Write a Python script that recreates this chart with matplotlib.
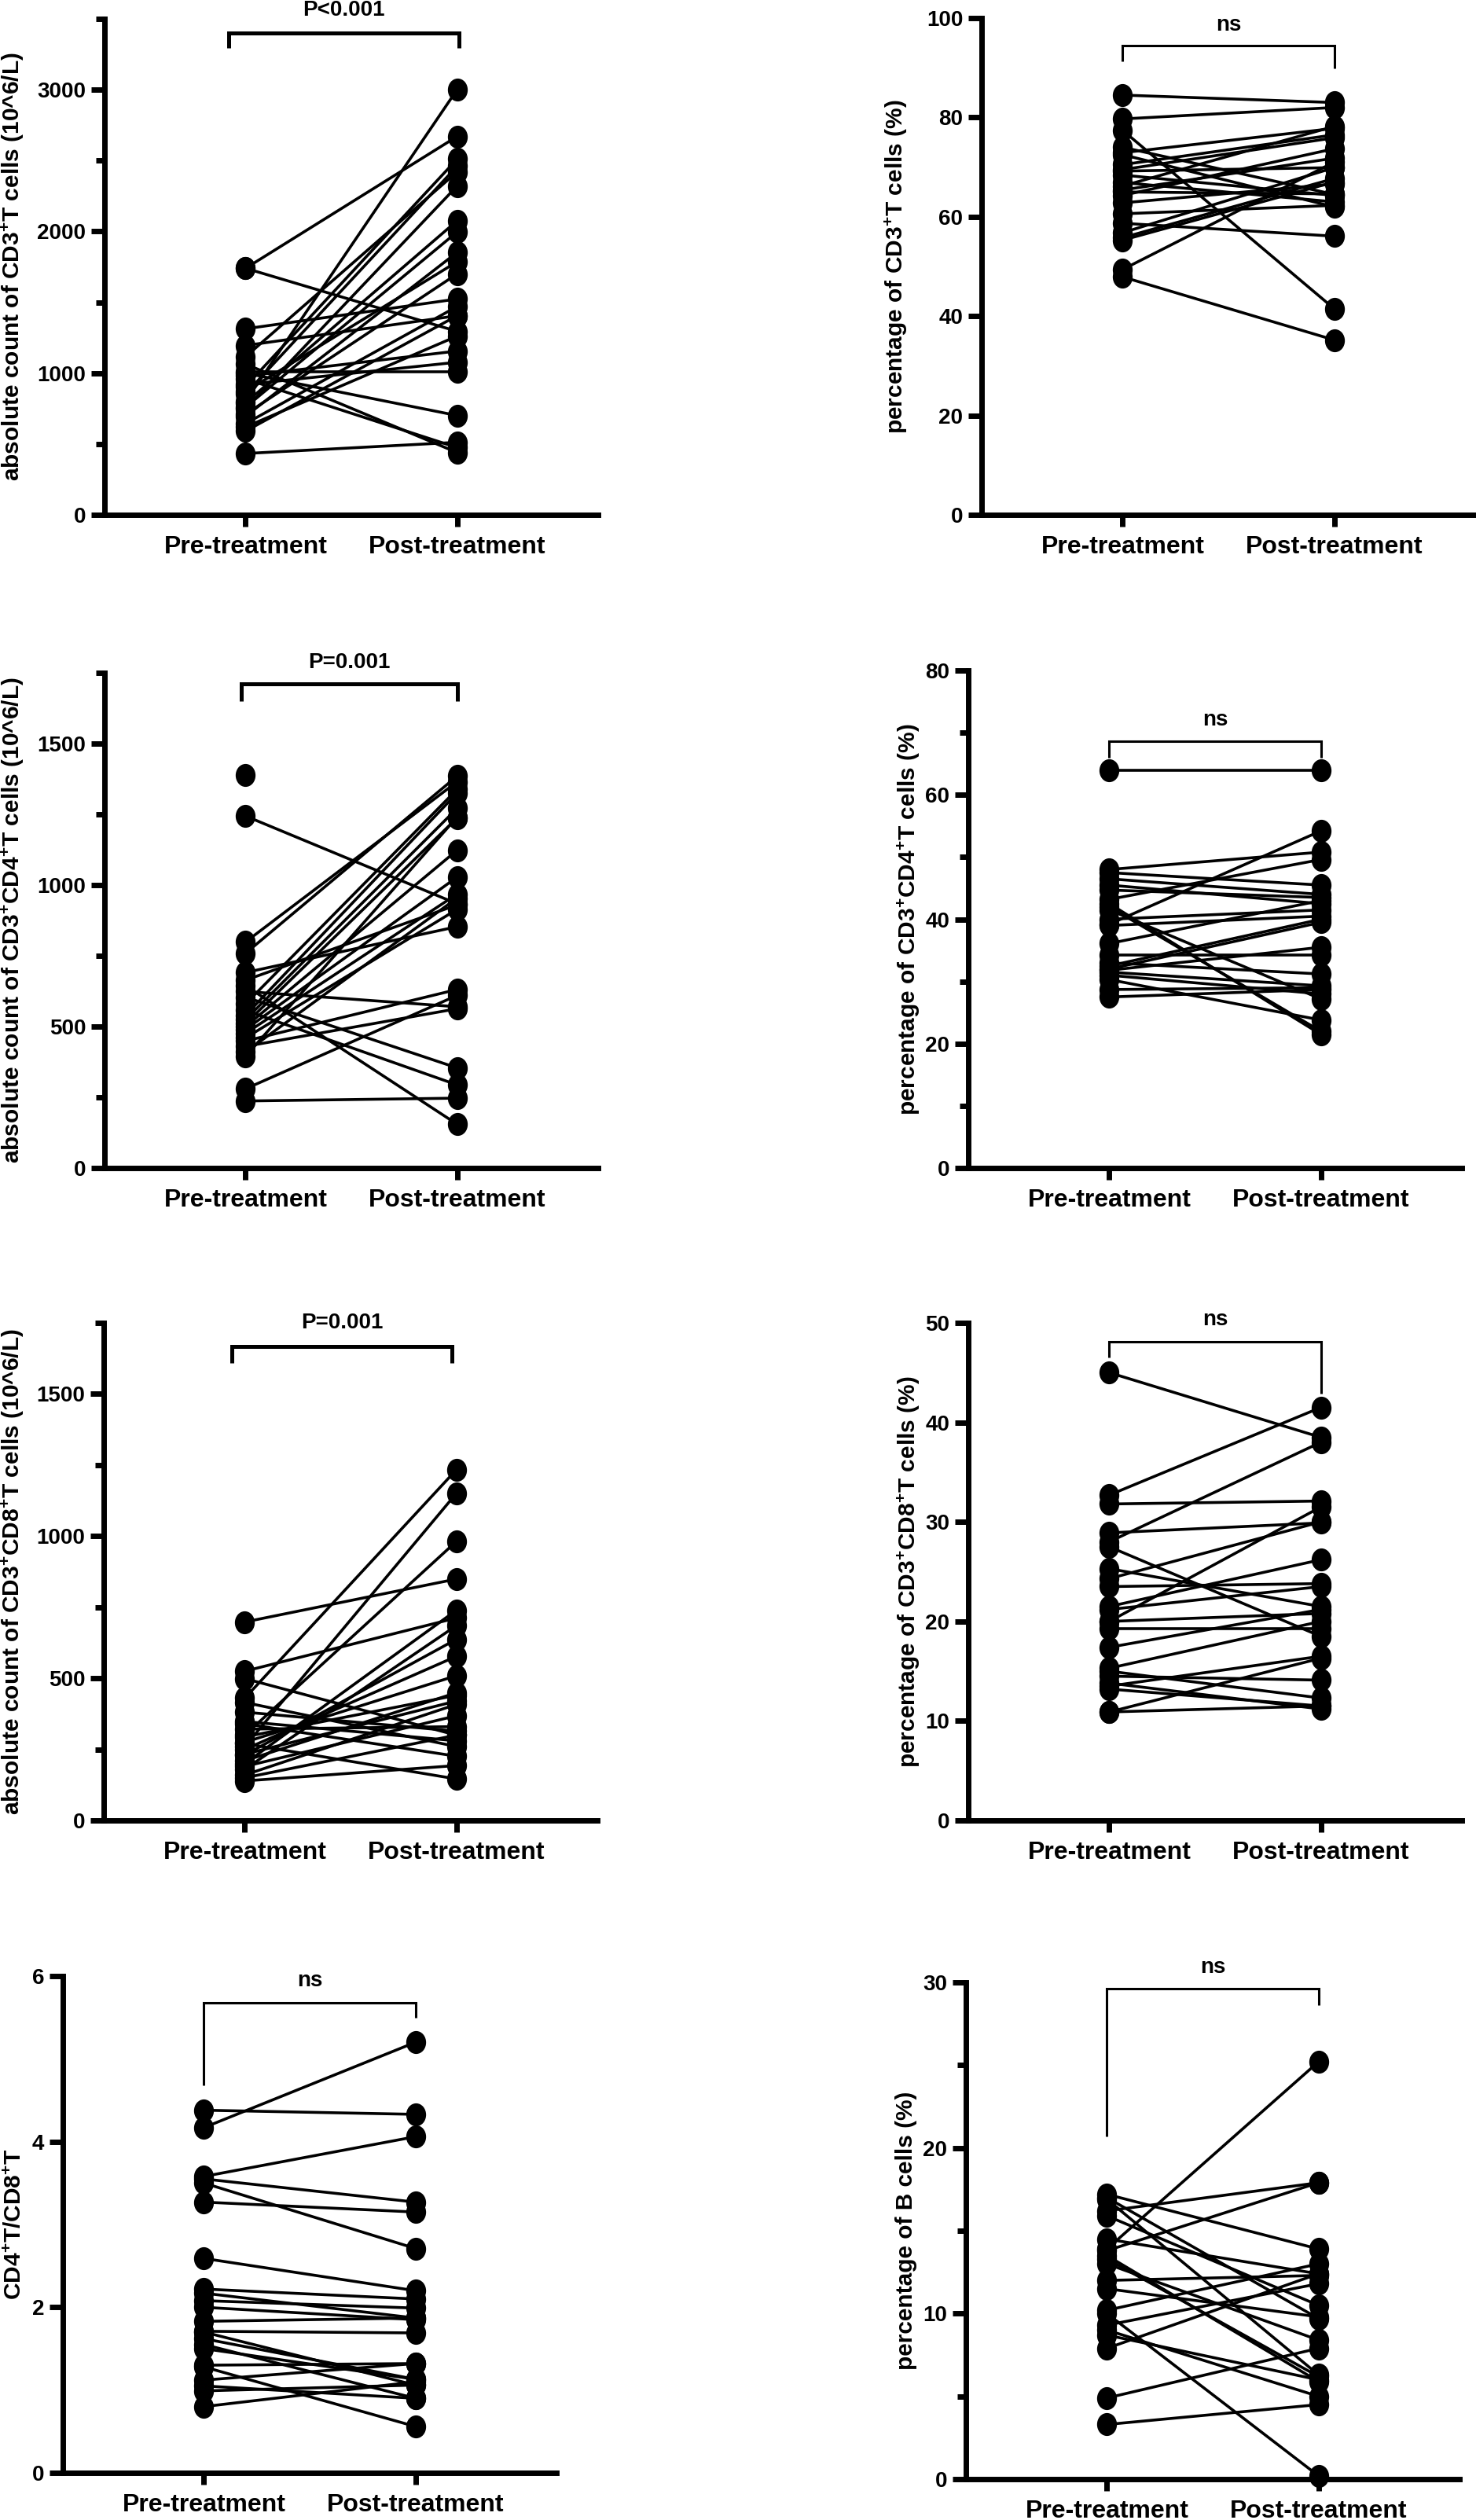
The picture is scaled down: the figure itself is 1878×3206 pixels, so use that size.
import numpy as np
import matplotlib
matplotlib.use("Agg")
import matplotlib.pyplot as plt
from matplotlib.path import Path
from matplotlib.ticker import MultipleLocator

plt.rcParams['font.family'] = ['Liberation Sans', 'DejaVu Sans']
plt.rcParams['font.weight'] = 'bold'
plt.rcParams['mathtext.fontset'] = 'custom'
plt.rcParams['mathtext.rm'] = 'Liberation Sans:bold'
plt.rcParams['mathtext.it'] = 'Liberation Sans:bold'
plt.rcParams['mathtext.bf'] = 'Liberation Sans:bold'

groups = ["Pre-treatment", "Post-treatment"]
nan = float('nan')

# Panel 1: absolute count of CD3+ T cells
pre1 = [1740, 1740, 1313, 1195, 1116, 1011, 1064, 959, 1000, 906, 854, 801,
        749, 790, 760, 696, 870, 710, 644, 591, 980, 920, 620, 433]
post1 = [2670, 1295, 1523, 1405, 2420, 1011, 440, 475, 701, 2510, 2460, 3000,
         2320, 2075, 1996, 1852, 1786, 1700, 1470, 1405, 1156, 1077, 1261, 512]

# Panel 2: percentage of CD3+ T cells
pre2 = [84.5, 79.7, 77.4, 72.9, 72.5, 69.5, 69.2, 68.4, 66.9, 66.2, 65.4, 65.0,
        64.3, 62.8, 60.6, 58.7, 56.8, 55.8, 55.3, 49.4, 47.9, 74.0, 70.5]
post2 = [83.0, 82.0, 41.5, 77.8, 62.0, 75.9, 69.9, 64.3, 63.0, 78.2, 71.8, 64.6,
         73.7, 66.6, 62.3, 56.1, 69.9, 67.7, 67.0, 71.0, 35.2, 64.5, 76.5]

# Panel 3: absolute count of CD3+CD4+ T cells
pre3 = [1388, 1244, 799, 759, 691, 664, 644, 624, 604, 580, 557, 540,
        525, 510, 500, 490, 476, 460, 449, 430, 410, 395, 280, 237]
post3 = [nan, 934, 1365, 1385, 853, 930, 155, 570, 354, 1338, 294, 1325,
         1271, 1237, 1123, 1028, 968, 914, 631, 563, 954, 1240, 610, 247]

# Panel 4: percentage of CD3+CD4+ T cells
pre4 = [64.0, 48.0, 47.5, 46.5, 44.7, 43.2, 42.5, 42.0, 40.0, 39.2, 39.0, 36.1,
        34.3, 32.5, 32.0, 31.8, 31.5, 31.0, 30.3, 28.7, 27.5, 45.5, 41.5, 33.0]
post4 = [64.0, 50.8, 45.5, 44.0, 43.5, 49.6, 21.5, 22.0, 41.5, 54.2, 40.5, 43.0,
         34.3, 40.0, 39.5, 35.5, 29.3, 28.0, 23.8, 29.0, 28.7, 42.5, 27.2, 31.2]

# Panel 5: absolute count of CD3+CD8+ T cells
pre5 = [698, 525, 499, 430, 260, 300, 381, 348, 139, 270, 200, 180,
        230, 250, 275, 210, 160, 190, 321, 340, 150, 294, 415, 233]
post5 = [849, 712, 300, 1233, 1150, 981, 314, 280, 193, 146, 739, 685,
         637, 577, 509, 449, 408, 368, 330, 226, 300, 440, 260, 420]

# Panel 6: percentage of CD3+CD8+ T cells
pre6 = [45.0, 32.7, 31.8, 28.9, 28.0, 27.5, 25.3, 24.3, 23.5, 21.2, 21.5, 20.0,
        20.0, 19.3, 17.4, 15.3, 15.0, 14.5, 13.8, 13.5, 13.2, 10.9, 10.9]
post6 = [38.5, 41.5, 32.1, 29.9, 38.0, 18.5, 21.5, 30.0, 23.8, 23.5, 26.2, 31.5,
         20.8, 19.3, 21.2, 20.0, 12.3, 14.1, 11.2, 16.5, 11.5, 16.3, 11.5]

# Panel 7: CD4+T / CD8+T ratio
pre7 = [4.38, 4.17, 3.58, 3.55, 3.50, 3.27, 2.59, 2.22, 2.17, 2.08, 2.00, 1.83,
        1.71, 1.70, 1.62, 1.55, 1.50, 1.30, 1.28, 1.12, 1.05, 0.99, 0.80]
post7 = [4.33, 5.20, 4.06, 3.27, 2.71, 3.15, 2.20, 2.10, 1.87, 1.99, 1.85, 1.87,
         1.69, 1.06, 1.13, 0.90, 1.13, 1.32, 0.56, 1.32, 0.90, 1.06, 1.10]

# Panel 8: percentage of B cells
pre8 = [17.2, 17.0, 16.9, 16.2, 15.9, 14.5, 13.9, 13.8, 13.5, 13.3, 13.0, 12.0,
        11.5, 10.2, 10.0, 9.3, 9.0, 8.7, 7.9, 4.9, 3.3]
post8 = [13.9, 9.7, 6.3, 17.9, 10.5, 12.4, 25.2, 17.9, 5.9, 6.2, 8.4, 12.3,
         9.8, 13.0, 0.2, 11.8, 5.0, 6.0, 12.4, 7.9, 4.5]

ylabels = [
    "absolute count of CD3$^{+}$T cells (10^6/L)",
    "percentage of CD3$^{+}$T cells (%)",
    "absolute count of CD3$^{+}$CD4$^{+}$T cells (10^6/L)",
    "percentage of CD3$^{+}$CD4$^{+}$T cells (%)",
    "absolute count of CD3$^{+}$CD8$^{+}$T cells (10^6/L)",
    "percentage of CD3$^{+}$CD8$^{+}$T cells (%)",
    "CD4$^{+}$T/CD8$^{+}$T",
    "percentage of B cells (%)",
]
sig_labels = ["P<0.001", "ns", "P=0.001", "ns", "P=0.001", "ns", "ns", "ns"]

W, H = 1878, 3206
fig = plt.figure(figsize=(W / 100, H / 100), dpi=100)

# layout in pixels: left, top, width, height
boxes = [
    (133, 24, 628, 631), (1249, 23, 628, 632),
    (133, 856, 628, 630), (1232, 853, 628, 633),
    (132, 1683, 628, 633), (1232, 1683, 628, 633),
    (80, 2514, 628, 632), (1229, 2522, 628, 632),
]
ylims = [3500, 100, 1750, 80, 1750, 50, 6, 30]
majors = [1000, 20, 500, 20, 500, 10, 2, 10]
minors = [500, None, 250, 10, 250, None, None, 5]
label_x = [-0.159, -0.146, -0.159, -0.094, -0.158, -0.094, -0.075, -0.098]
# bracket: x_left, x_right, y_bar, y_left_end, y_right_end, y_text, linewidth
brackets = [
    (-0.08, 1.01, 3400, 3295, 3295, 3560, 3.6),
    (0.0, 1.0, 94.5, 91.3, 89.9, 98.5, 2.2),
    (-0.02, 1.0, 1711, 1650, 1650, 1785, 3.6),
    (0.0, 1.0, 68.6, 66.0, 66.0, 72.0, 2.2),
    (-0.06, 0.98, 1668, 1608, 1608, 1750, 3.6),
    (0.0, 1.0, 48.1, 46.5, 42.9, 50.3, 2.2),
    (0.0, 1.0, 5.68, 4.68, 5.50, 5.94, 2.2),
    (0.0, 1.0, 29.6, 20.7, 28.6, 30.9, 2.2),
]

data = [(pre1, post1), (pre2, post2), (pre3, post3), (pre4, post4),
        (pre5, post5), (pre6, post6), (pre7, post7), (pre8, post8)]

circ = Path.unit_circle()
ellipse = Path(circ.vertices * np.array([0.86, 1.0]), circ.codes)

for i, (pre, post) in enumerate(data):
    l, t, w, h = boxes[i]
    ax = fig.add_axes([l / W, 1 - (t + h) / H, w / W, h / H])
    for a, b in zip(pre, post):
        if np.isnan(b):
            ax.plot([0], [a], color='black', marker=ellipse, ms=20, lw=0,
                    clip_on=False, zorder=3)
        else:
            ax.plot([0, 1], [a, b], color='black', lw=2.6, marker=ellipse,
                    ms=20, clip_on=False, zorder=3)
    ax.set_xlim(-0.667, 1.667)
    ax.set_ylim(0, ylims[i])
    ax.set_xticks([0, 1])
    ax.set_xticklabels(groups, fontsize=23, fontweight='bold')
    ax.yaxis.set_major_locator(MultipleLocator(majors[i]))
    if minors[i]:
        ax.yaxis.set_minor_locator(MultipleLocator(minors[i]))
    for lab in ax.get_yticklabels():
        lab.set_fontweight('bold')
    ax.tick_params(axis='y', which='major', length=12, width=5, labelsize=20, pad=5)
    ax.tick_params(axis='y', which='minor', length=8, width=5)
    ax.tick_params(axis='x', which='major', length=11, width=5, pad=8)
    for s in ['top', 'right']:
        ax.spines[s].set_visible(False)
    for s in ['left', 'bottom']:
        ax.spines[s].set_linewidth(5)
    ax.set_ylabel(ylabels[i], fontsize=21.5, fontweight='bold')
    ax.yaxis.set_label_coords(label_x[i], 0.5)
    x0, x1, yb, yl, yr, yt, blw = brackets[i]
    ax.plot([x0, x0, x1, x1], [yl, yb, yb, yr], color='black', lw=blw,
            clip_on=False, solid_joinstyle='miter', solid_capstyle='butt')
    ax.text((x0 + x1) / 2, yt, sig_labels[i], ha='center', va='center',
            fontsize=20, fontweight='bold', clip_on=False)

fig.savefig("out.png", dpi=100, facecolor='white')
